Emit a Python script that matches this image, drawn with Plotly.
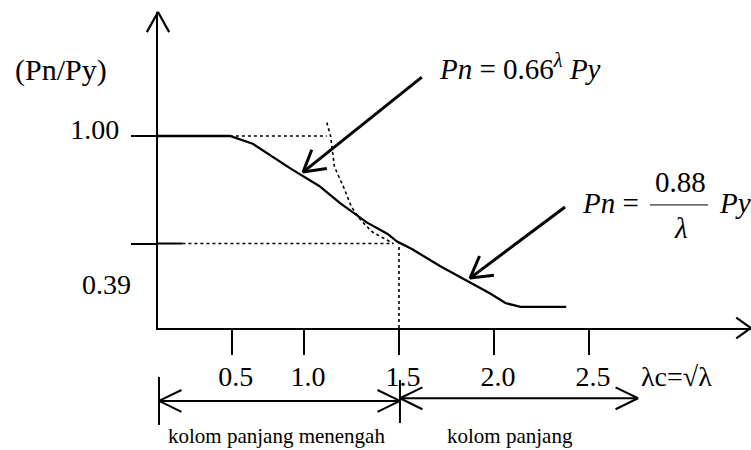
import math
import plotly.graph_objects as go

W, H = 751, 450
FONT = "Liberation Serif, DejaVu Serif, serif"

# ---- canvas extent in chart units (x: lambda_c, y: Pn/Py) ----
X_RANGE = [-0.600, 3.3526]
Y_RANGE = [-0.6354, 1.7083]
AXIS_X0 = 0.2316      # where the vertical axis stands
AXIS_YTOP = 1.6458    # top of the vertical axis (arrow tip)

# ---- axis ticks ----
x_tick_pos = [0.62, 1.0, 1.5, 2.0, 2.5]
x_tick_labels = ["0.5", "1.0", "1.5", "2.0", "2.5"]
y_tick_pos = [1.00, 0.44]
y_tick_labels = ["1.00", " "]

# ---- main column curve ----
curve_lambda = [0.23, 0.61, 0.73, 0.82, 0.93, 1.08, 1.19, 1.33, 1.44, 1.49,
                1.57, 1.72, 1.87, 1.98, 2.06, 2.14, 2.24, 2.38]
curve_ratio = [1.00, 1.00, 0.96, 0.90, 0.83, 0.74, 0.65, 0.55, 0.49, 0.45,
               0.41, 0.32, 0.24, 0.18, 0.13, 0.11, 0.11, 0.11]

# ---- Euler (dotted) curve ----
euler_lambda = [1.12, 1.14, 1.16, 1.21, 1.25, 1.30, 1.36, 1.47]
euler_ratio = [1.07, 1.00, 0.84, 0.73, 0.63, 0.56, 0.50, 0.44]

# ---- reference lines ----
top_dot_lambda = [0.61, 1.12]
top_dot_ratio = [1.00, 1.00]
mid_solid_lambda = [0.23, 0.36]
mid_dot_lambda = [0.36, 1.47]
mid_ratio = [0.44, 0.44]
vert_dot_lambda = [1.5, 1.5]
vert_dot_ratio = [0.0, 0.44]

# ---- pointer arrows (tail -> tip) ----
arrow1 = [(1.62, 1.307), (0.995, 0.812)]
arrow2 = [(2.374, 0.630), (1.874, 0.260)]

# ---- range arrows below the axis ----
range_left = [(1.505, -0.380), (0.237, -0.380)]
range_right = [(1.505, -0.366), (2.758, -0.366)]
bar_left = [(0.237, -0.255), (0.237, -0.505)]
bar_mid = [(1.505, -0.271), (1.505, -0.495)]

# ---- texts ----
txt_ylabel = ("(Pn/Py)", -0.279, 1.344)
txt_039 = ("0.39", -0.042, 0.229)
txt_xlabel = ("λc=√λ", 2.963, -0.255)
txt_mid = ("kolom panjang menengah", 0.853, -0.5625)
txt_long = ("kolom panjang", 2.084, -0.5625)
eq1 = ("<i>Pn</i> = 0.66<sup><i>λ</i></sup> <i>Py</i>", 1.70, 1.359)
eq2_left = ("<i>Pn</i> =", 2.453, 0.651)
eq2_num = ("0.88", 2.979, 0.760)
eq2_den = ("<i>λ</i>", 2.984, 0.521)
eq2_right = ("<i>Py</i>", 3.174, 0.651)
frac_bar_lambda = [2.821, 3.126]
frac_bar_ratio = [0.641, 0.641]

SX = W / (X_RANGE[1] - X_RANGE[0])
SY = H / (Y_RANGE[1] - Y_RANGE[0])


def head(tip, tail, length=23, angle=28):
    """Open V arrowhead at tip, pointing away from tail (sizes in px)."""
    dx = (tail[0] - tip[0]) * SX
    dy = (tail[1] - tip[1]) * SY
    n = math.hypot(dx, dy)
    ux, uy = dx / n, dy / n
    xs, ys = [], []
    for sgn in (1, -1):
        a = math.radians(angle) * sgn
        rx = ux * math.cos(a) - uy * math.sin(a)
        ry = ux * math.sin(a) + uy * math.cos(a)
        xs.append(tip[0] + rx * length / SX)
        ys.append(tip[1] + ry * length / SY)
    return [xs[0], tip[0], xs[1]], [ys[0], tip[1], ys[1]]


fig = go.Figure()

# invisible trace so the visible axis pair is drawn
fig.add_trace(go.Scatter(x=[AXIS_X0], y=[0], mode="markers", xaxis="x", yaxis="y",
                         marker=dict(size=1, opacity=0), hoverinfo="skip",
                         showlegend=False))


def line(xs, ys, width=2.0, dash="solid"):
    fig.add_trace(go.Scatter(x=xs, y=ys, mode="lines", xaxis="x2", yaxis="y2",
                             line=dict(color="black", width=width, dash=dash),
                             hoverinfo="skip", showlegend=False))


# curves
line(curve_lambda, curve_ratio, 2.3)
line(euler_lambda, euler_ratio, 1.6, "dot")
line(top_dot_lambda, top_dot_ratio, 1.6, "dot")
line(mid_solid_lambda, mid_ratio, 2.0)
line(mid_dot_lambda, mid_ratio, 1.6, "dot")
line(vert_dot_lambda, vert_dot_ratio, 1.6, "dot")

# axis arrowheads
hx, hy = head((AXIS_X0, AXIS_YTOP), (AXIS_X0, 0), 23, 29)
line(hx, hy, 2.2)
hx, hy = head((X_RANGE[1], 0), (AXIS_X0, 0), 18, 35)
line(hx, hy, 2.2)

# pointer arrows
for tail, tip in (arrow1, arrow2):
    line([tail[0], tip[0]], [tail[1], tip[1]], 3.0)
    hx, hy = head(tip, tail, 24, 30)
    line(hx, hy, 3.0)

# range arrows
for a, b in (range_left, range_right):
    line([a[0], b[0]], [a[1], b[1]], 2.0)
    for tip, tail in ((a, b), (b, a)):
        hx, hy = head(tip, tail, 25, 26)
        line(hx, hy, 2.0)
for a, b in (bar_left, bar_mid):
    line([a[0], b[0]], [a[1], b[1]], 2.0)

# fraction bar
line(frac_bar_lambda, frac_bar_ratio, 1.0)


def text(t, x, y, size, anchor="center"):
    fig.add_annotation(text=t, x=x, y=y, xref="x2", yref="y2", showarrow=False,
                       xanchor=anchor, yanchor="middle",
                       font=dict(family=FONT, size=size, color="black"))


text(*txt_ylabel, 30)
text(*txt_039, 28)
text(*txt_xlabel, 28)
text(*txt_mid, 21)
text(*txt_long, 21)
text(*eq1, 29, "left")
text(*eq2_left, 29, "left")
text(*eq2_num, 29)
text(*eq2_den, 29)
text(*eq2_right, 29, "left")

xspan = X_RANGE[1] - X_RANGE[0]
yspan = Y_RANGE[1] - Y_RANGE[0]
fig.update_layout(
    width=W, height=H, margin=dict(l=0, r=0, t=0, b=0),
    paper_bgcolor="white", plot_bgcolor="rgba(0,0,0,0)",
    showlegend=False,
    xaxis=dict(domain=[(AXIS_X0 - X_RANGE[0]) / xspan, 1],
               range=[AXIS_X0, X_RANGE[1]], anchor="y",
               showline=True, linecolor="black", linewidth=2.2,
               ticks="outside", ticklen=25, tickwidth=2, tickcolor="black",
               tickvals=x_tick_pos, ticktext=x_tick_labels,
               tickfont=dict(family=FONT, size=28, color="black"),
               ticklabelstandoff=-3, ticklabelshift=4,
               showgrid=False, zeroline=False, fixedrange=True),
    yaxis=dict(domain=[(0 - Y_RANGE[0]) / yspan,
                       (AXIS_YTOP - Y_RANGE[0]) / yspan],
               range=[0, AXIS_YTOP], anchor="x",
               showline=True, linecolor="black", linewidth=2.2,
               ticks="outside", ticklen=25, tickwidth=2, tickcolor="black",
               tickvals=y_tick_pos, ticktext=y_tick_labels,
               tickfont=dict(family=FONT, size=28, color="black"),
               ticklabelstandoff=6, ticklabelshift=-7,
               showgrid=False, zeroline=False, fixedrange=True),
    xaxis2=dict(domain=[0, 1], range=X_RANGE, anchor="y2", visible=False,
                fixedrange=True),
    yaxis2=dict(domain=[0, 1], range=Y_RANGE, anchor="x2", visible=False,
                fixedrange=True),
)

fig.write_html("out.html", config={"displayModeBar": False},
               post_script="document.body.style.margin='0';")
